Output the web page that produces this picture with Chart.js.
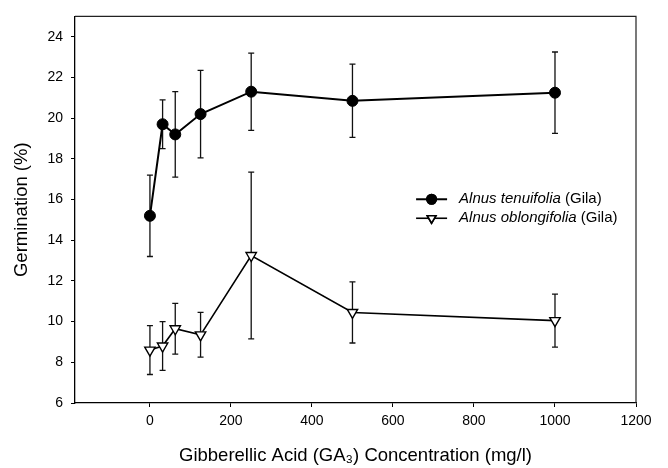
<!DOCTYPE html>
<html>
<head>
<meta charset="utf-8">
<script src="https://cdn.jsdelivr.net/npm/chart.js"></script>
<style>
  html, body { margin: 0; padding: 0; background: #fff; }
  #wrap { width: 668px; height: 468px; }
</style>
</head>
<body>
<div id="wrap"><canvas id="chart" width="668" height="468"></canvas></div>
<script>
// GA3 concentrations (mg/l)
const concentrations = [0, 31.25, 62.5, 125, 250, 500, 1000]

// germination (%) and error bars
const tenuifolia = [15.2, 19.7, 19.2, 20.2, 21.3, 20.85, 21.25]
const tenuifoliaErr = [2.0, 1.2, 2.1, 2.15, 1.9, 1.8, 2.0]
const oblongifolia = [8.6, 8.8, 9.65, 9.35, 13.25, 10.45, 10.05]
const oblongifoliaErr = [1.2, 1.2, 1.25, 1.1, 4.1, 1.5, 1.3]

const speciesNames = ['Alnus tenuifolia', 'Alnus oblongifolia']
const siteName = '(Gila)'

const xTicks = [0, 200, 400, 600, 800, 1000, 1200]
const yTicks = [6, 8, 10, 12, 14, 16, 18, 20, 22, 24]

const FONT = "'Liberation Sans', Arial, sans-serif"

function points (ys) {
  return concentrations.map((x, i) => ({ x: x, y: ys[i] }))
}

// error bars drawn under the lines, from the data through the scales
const errorBars = {
  id: 'errorBars',
  beforeDatasetsDraw (chart) {
    const { ctx, scales: { x, y } } = chart
    chart.data.datasets.forEach(ds => {
      ctx.save()
      ctx.strokeStyle = '#111'
      ctx.lineWidth = 1.3
      ds.data.forEach((p, i) => {
        const px = x.getPixelForValue(p.x)
        const top = y.getPixelForValue(p.y + ds.errors[i])
        const bot = y.getPixelForValue(p.y - ds.errors[i])
        ctx.beginPath()
        ctx.moveTo(px, top); ctx.lineTo(px, bot)
        ctx.moveTo(px - 3, top); ctx.lineTo(px + 3, top)
        ctx.moveTo(px - 3, bot); ctx.lineTo(px + 3, bot)
        ctx.stroke()
      })
      ctx.restore()
    })
  }
}

// top and right frame lines
const frame = {
  id: 'frame',
  afterDraw (chart) {
    const { ctx, chartArea: a } = chart
    ctx.save()
    ctx.strokeStyle = '#222'
    ctx.lineWidth = 1.2
    ctx.beginPath()
    ctx.moveTo(a.left, a.top); ctx.lineTo(a.right, a.top); ctx.lineTo(a.right, a.bottom)
    ctx.stroke()
    ctx.restore()
  }
}

// legend with italic species name and plain site name
const mixedLegend = {
  id: 'mixedLegend',
  afterDraw (chart, args, opts) {
    const { ctx, chartArea: a } = chart
    const x0 = a.left + opts.x * (a.right - a.left)
    let yy = a.top + opts.y * (a.bottom - a.top)
    chart.data.datasets.forEach((ds, i) => {
      ctx.save()
      ctx.strokeStyle = '#000'
      ctx.lineWidth = ds.borderWidth
      ctx.beginPath()
      ctx.moveTo(x0, yy); ctx.lineTo(x0 + 31, yy)
      ctx.stroke()
      Chart.helpers.drawPoint(ctx, {
        pointStyle: ds.pointStyle,
        rotation: ds.pointRotation,
        radius: ds.pointRadius - 1,
        borderWidth: ds.pointBorderWidth
      }, x0 + 15.5, yy)
      ctx.fillStyle = ds.pointBackgroundColor
      ctx.strokeStyle = ds.pointBorderColor
      ctx.fill()
      ctx.stroke()
      ctx.fillStyle = '#000'
      ctx.textBaseline = 'middle'
      ctx.font = 'italic 15px ' + FONT
      const tx = x0 + 43
      ctx.fillText(speciesNames[i], tx, yy)
      const w = ctx.measureText(speciesNames[i] + ' ').width
      ctx.font = '15px ' + FONT
      ctx.fillText(siteName, tx + w, yy)
      ctx.restore()
      yy += 19
    })
  }
}

new Chart(document.getElementById('chart'), {
  type: 'scatter',
  data: {
    datasets: [
      {
        label: speciesNames[0] + ' ' + siteName,
        data: points(tenuifolia),
        errors: tenuifoliaErr,
        showLine: true,
        borderColor: '#000',
        borderWidth: 2,
        pointStyle: 'circle',
        pointRotation: 0,
        pointRadius: 5.5,
        pointBorderWidth: 1,
        pointBackgroundColor: '#000',
        pointBorderColor: '#000'
      },
      {
        label: speciesNames[1] + ' ' + siteName,
        data: points(oblongifolia),
        errors: oblongifoliaErr,
        showLine: true,
        borderColor: '#000',
        borderWidth: 1.6,
        pointStyle: 'triangle',
        pointRotation: 180,
        pointRadius: 6,
        pointBorderWidth: 1.4,
        pointBackgroundColor: '#fff',
        pointBorderColor: '#000'
      }
    ]
  },
  options: {
    responsive: false,
    animation: false,
    layout: { padding: { top: 14, right: 32, left: 0, bottom: 0 } },
    plugins: {
      legend: { display: false },
      tooltip: { enabled: false },
      mixedLegend: { x: 0.608, y: 0.473 }
    },
    scales: {
      x: {
        type: 'linear',
        min: -185,
        max: 1200,
        afterBuildTicks: s => { s.ticks = xTicks.map(v => ({ value: v })) },
        afterFit: s => { s.height = 65 },
        grid: { drawOnChartArea: false, color: '#000', tickLength: 4 },
        border: { color: '#000', width: 1.3 },
        ticks: {
          color: '#000',
          font: { family: FONT, size: 14 },
          padding: 6,
          maxRotation: 0,
          callback: v => String(v)
        },
        title: {
          display: true,
          text: 'Gibberellic Acid (GA\u2083) Concentration (mg/l)',
          color: '#000',
          font: { family: FONT, size: 18.5 },
          padding: { top: 0, bottom: 1 }
        }
      },
      y: {
        type: 'linear',
        min: 6,
        max: 25,
        afterBuildTicks: s => { s.ticks = yTicks.map(v => ({ value: v })) },
        afterFit: s => { s.width = 75 },
        grid: { drawOnChartArea: false, color: '#000', tickLength: 4 },
        border: { color: '#000', width: 1.3 },
        ticks: { color: '#000', font: { family: FONT, size: 14 }, padding: 8, callback: v => String(v) },
        title: {
          display: true,
          text: 'Germination (%)',
          color: '#000',
          font: { family: FONT, size: 18.5 },
          padding: { top: 11, bottom: 0 }
        }
      }
    }
  },
  plugins: [errorBars, frame, mixedLegend]
})
</script>
</body>
</html>
